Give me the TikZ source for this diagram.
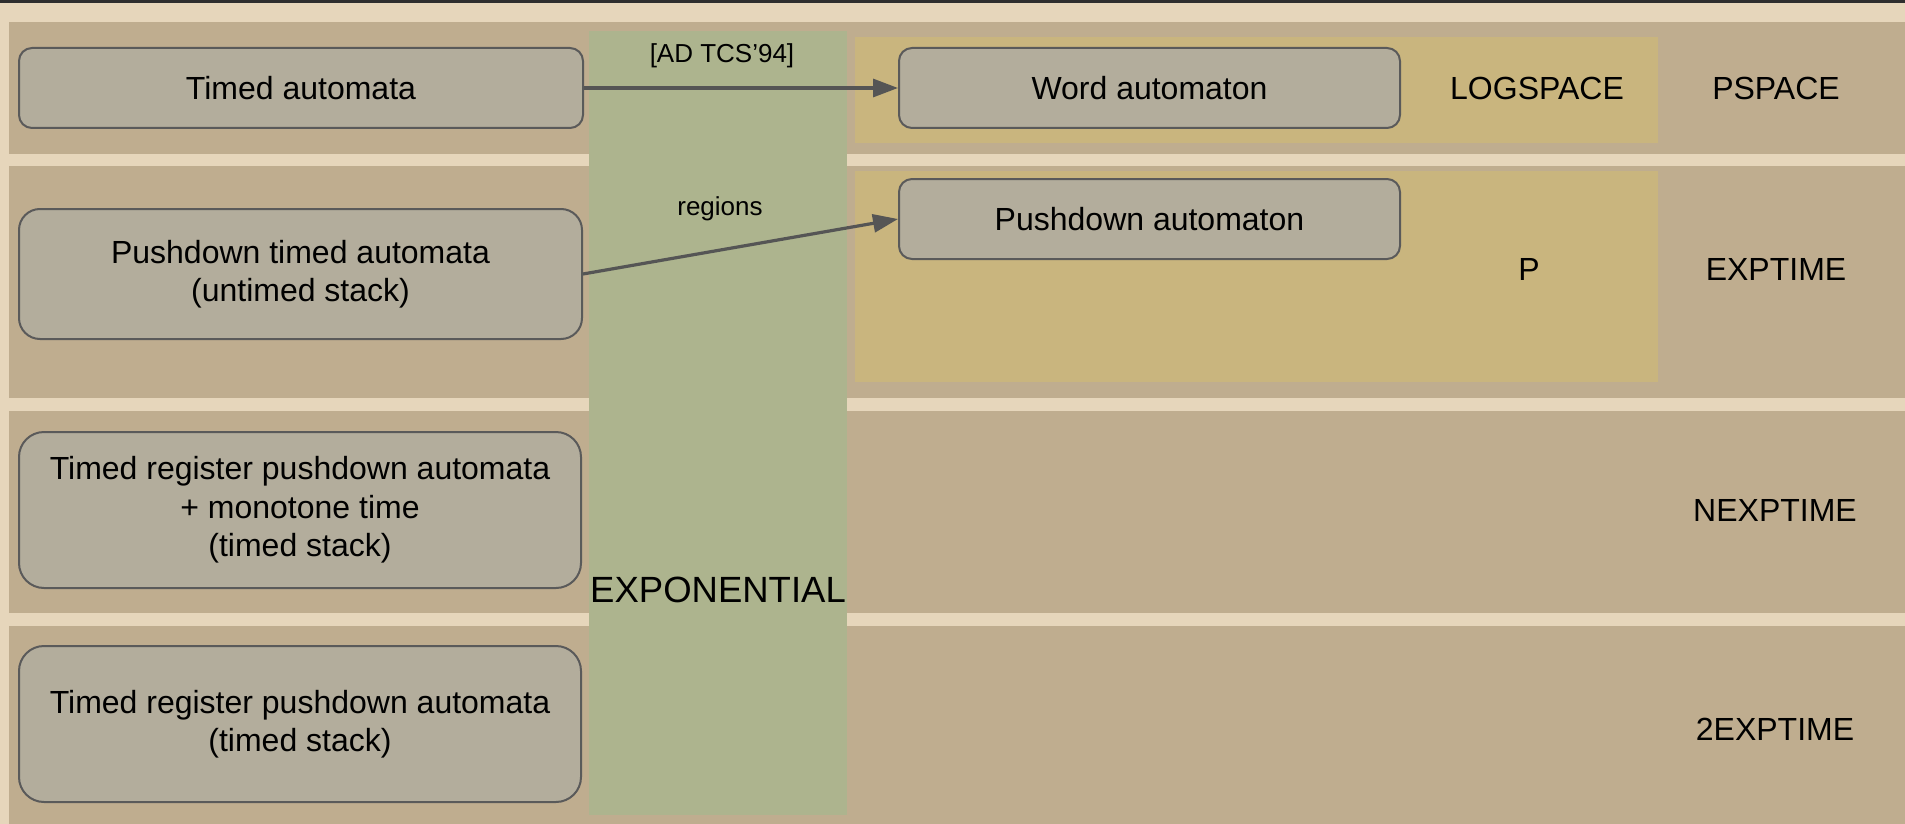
\documentclass[tikz,border=0pt]{standalone}
\usepackage{fontspec}
\setmainfont{Liberation Sans}
\usetikzlibrary{arrows.meta}

\definecolor{pagebg}{HTML}{E6D6BB}
\definecolor{topbar}{HTML}{2E2E2E}
\definecolor{band}{HTML}{BFAD8F}
\definecolor{expcol}{HTML}{ADB48E}
\definecolor{gold}{HTML}{C9B57E}
\definecolor{boxfill}{HTML}{B3AD9C}
\definecolor{boxline}{HTML}{5A5A5A}
\definecolor{arrowcol}{HTML}{555555}

\tikzset{
  automaton/.style={draw=boxline, fill=boxfill, line width=2pt,
    align=center, inner sep=0pt, font=\fontsize{32}{38.4}\selectfont},
  conn/.style={draw=arrowcol, line width=3.2pt,
    -{Triangle[length=25pt,width=18pt]}},
  cls/.style={inner sep=0pt, font=\fontsize{32}{38.4}\selectfont},
  note/.style={inner sep=0pt, font=\fontsize{26}{31}\selectfont}
}

\begin{document}
\begin{tikzpicture}[x=1pt, y=-1pt]
  % page and bands
  \fill[pagebg] (0,0) rectangle (1905,824);
  \useasboundingbox (0,0) rectangle (1905,824);
  \fill[topbar] (0,0) rectangle (1905,3);
  \fill[band] (9,22) rectangle (1905,154);
  \fill[band] (9,166) rectangle (1905,398);
  \fill[band] (9,411) rectangle (1905,613);
  \fill[band] (9,626) rectangle (1905,824);
  % exponential column and polynomial regions
  \fill[expcol] (589,31) rectangle (847,815);
  \fill[gold] (855,37) rectangle (1658,143);
  \fill[gold] (855,171) rectangle (1658,382);

  % automata models
  \node[automaton, rounded corners=13pt, minimum width=564pt, minimum height=80pt]
    (ta) at (301,88) {Timed automata};
  \node[automaton, rounded corners=13pt, minimum width=501pt, minimum height=80pt]
    (wa) at (1149.5,88) {Word automaton};
  \node[automaton, rounded corners=13pt, minimum width=501pt, minimum height=80pt]
    (pa) at (1149.5,219) {Pushdown automaton};
  \node[automaton, rounded corners=21pt, minimum width=563pt, minimum height=130pt]
    (pta) at (300.5,274) {Pushdown timed automata\\(untimed stack)};
  \node[automaton, rounded corners=25pt, minimum width=562pt, minimum height=156pt]
    (trm) at (300,510) {Timed register pushdown automata\\+ monotone time\\(timed stack)};
  \node[automaton, rounded corners=25pt, minimum width=562pt, minimum height=156pt]
    (tr) at (300,724) {Timed register pushdown automata\\(timed stack)};

  % reductions
  \draw[conn] (ta.east) -- (wa.west);
  \draw[conn] (pta.east) -- (pa.west);
  \node[note] (ad) at (722,56) {[AD TCS’94]};
  \node[note] (reg) at (720,209) {regions};

  % complexity classes
  \node[inner sep=0pt, font=\fontsize{36.5}{40}\selectfont] (exp) at (718,590) {EXPONENTIAL};
  \node[cls] (logspace) at (1537,88) {LOGSPACE};
  \node[cls] (pspace) at (1776,88) {PSPACE};
  \node[cls] (p) at (1529,269) {P};
  \node[cls] (exptime) at (1776,269) {EXPTIME};
  \node[cls] (nexptime) at (1775,510) {NEXPTIME};
  \node[cls] (twoexptime) at (1775,729) {2EXPTIME};
\end{tikzpicture}
\end{document}
